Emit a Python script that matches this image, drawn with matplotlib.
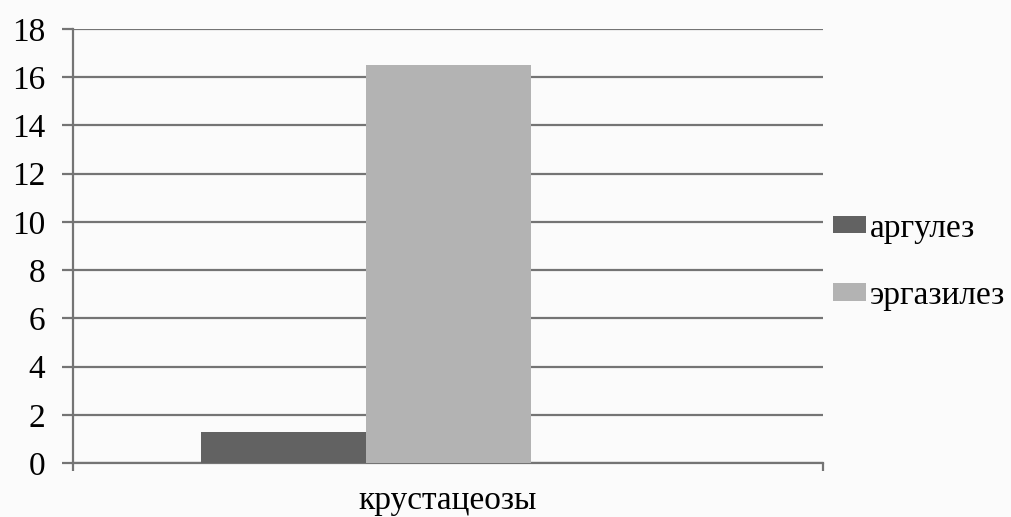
import matplotlib
matplotlib.use("Agg")
import matplotlib.pyplot as plt
from matplotlib.patches import Patch

category = "крустацеозы"
series_names = ["аргулез", "эргазилез"]
series_values = [1.3, 16.5]
series_colors = ["#626262", "#b3b3b3"]
y_ticks = [0, 2, 4, 6, 8, 10, 12, 14, 16, 18]

plt.rcParams["font.family"] = ["Liberation Serif", "DejaVu Serif"]
FS = 24

fig = plt.figure(figsize=(10.11, 5.17), dpi=100, facecolor="#fbfbfb")
ax = fig.add_axes([73 / 1011, 54 / 517, 750 / 1011, 434 / 517])
ax.set_facecolor("#fbfbfb")

# three slots per category; the third series slot is left empty
bar_w = 0.22
offsets = [-bar_w, 0.0]
for off, val, col in zip(offsets, series_values, series_colors):
    ax.bar(off, val, width=bar_w, color=col, zorder=3, linewidth=0)

ax.set_xlim(-0.5, 0.5)
ax.set_ylim(0, 18)
ax.set_yticks(y_ticks)
ax.set_yticklabels([str(t) for t in y_ticks], fontsize=FS)
ax.yaxis.grid(True, color="#747474", linewidth=1.6, zorder=1)
ax.set_axisbelow(True)

ax.set_xticks([-0.5, 0.5])
ax.set_xticklabels(["", ""])
ax.tick_params(axis="x", length=6, width=1.6, color="#747474")
ax.tick_params(axis="y", length=8, width=1.6, color="#747474", pad=12)
ax.text(0.5, -0.088, category, transform=ax.transAxes, ha="center",
        va="center", fontsize=FS)

for side in ["top", "right"]:
    ax.spines[side].set_visible(False)
for side in ["left", "bottom"]:
    ax.spines[side].set_color("#747474")
    ax.spines[side].set_linewidth(1.6)

handles = [Patch(facecolor=c, edgecolor="none") for c in series_colors]
leg = fig.legend(handles, series_names, loc="center left",
                 bbox_to_anchor=(833 / 1011, 1 - 262 / 517), frameon=False,
                 fontsize=FS, handlelength=1.0, handleheight=0.42,
                 handletextpad=0.12, labelspacing=1.1, borderpad=0,
                 borderaxespad=0)

fig.savefig("out.png", dpi=100, facecolor=fig.get_facecolor())
